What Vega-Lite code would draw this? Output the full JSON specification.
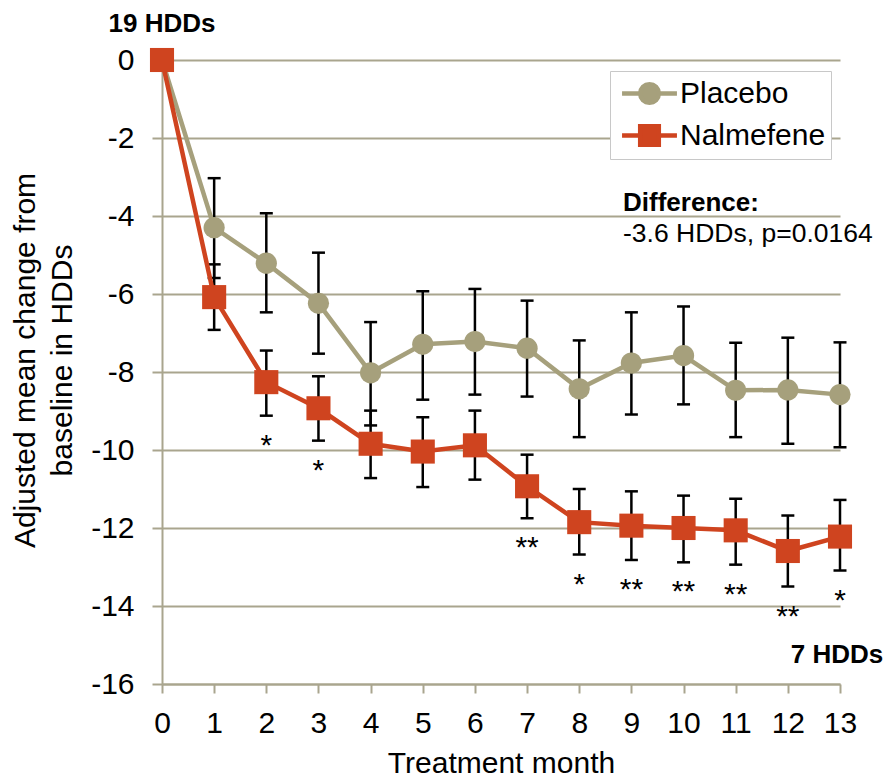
{
  "$schema": "https://vega.github.io/schema/vega-lite/v6.json",
  "autosize": "none",
  "width": 678,
  "height": 624,
  "padding": {"left": 162, "top": 60, "right": 51, "bottom": 94},
  "background": "white",
  "config": {
    "font": "Liberation Sans",
    "view": {"stroke": null},
    "axis": {"labelFont": "Liberation Sans", "titleFont": "Liberation Sans", "labelColor": "#000000", "titleColor": "#000000", "titleFontWeight": "normal"},
    "legend": {
      "title": null, "orient": "none", "legendX": 448, "legendY": 11,
      "strokeColor": "#C8C8C8", "fillColor": "#FFFFFF", "padding": 5,
      "labelFont": "Liberation Sans", "labelFontSize": 30, "labelColor": "#000000",
      "symbolSize": 900, "symbolOpacity": 1, "symbolStrokeWidth": 4.5,
      "symbolOffset": 17, "labelOffset": 13, "rowPadding": 5
    }
  },
  "datasets": {
    "series": [
      {"month": 0, "group": "Placebo", "mean": 0, "lo": null, "hi": null, "sig": null},
      {"month": 1, "group": "Placebo", "mean": -4.30, "lo": -5.59, "hi": -3.03, "sig": null},
      {"month": 2, "group": "Placebo", "mean": -5.21, "lo": -6.47, "hi": -3.93, "sig": null},
      {"month": 3, "group": "Placebo", "mean": -6.24, "lo": -7.53, "hi": -4.94, "sig": null},
      {"month": 4, "group": "Placebo", "mean": -8.02, "lo": -9.37, "hi": -6.72, "sig": null},
      {"month": 5, "group": "Placebo", "mean": -7.29, "lo": -8.71, "hi": -5.93, "sig": null},
      {"month": 6, "group": "Placebo", "mean": -7.22, "lo": -8.58, "hi": -5.87, "sig": null},
      {"month": 7, "group": "Placebo", "mean": -7.39, "lo": -8.63, "hi": -6.17, "sig": null},
      {"month": 8, "group": "Placebo", "mean": -8.43, "lo": -9.67, "hi": -7.19, "sig": null},
      {"month": 9, "group": "Placebo", "mean": -7.77, "lo": -9.09, "hi": -6.47, "sig": null},
      {"month": 10, "group": "Placebo", "mean": -7.58, "lo": -8.83, "hi": -6.32, "sig": null},
      {"month": 11, "group": "Placebo", "mean": -8.47, "lo": -9.67, "hi": -7.25, "sig": null},
      {"month": 12, "group": "Placebo", "mean": -8.46, "lo": -9.84, "hi": -7.12, "sig": null},
      {"month": 13, "group": "Placebo", "mean": -8.58, "lo": -9.93, "hi": -7.24, "sig": null},
      {"month": 0, "group": "Nalmefene", "mean": 0, "lo": null, "hi": null, "sig": null},
      {"month": 1, "group": "Nalmefene", "mean": -6.08, "lo": -6.92, "hi": -5.24, "sig": null},
      {"month": 2, "group": "Nalmefene", "mean": -8.26, "lo": -9.12, "hi": -7.45, "sig": "*"},
      {"month": 3, "group": "Nalmefene", "mean": -8.93, "lo": -9.76, "hi": -8.11, "sig": "*"},
      {"month": 4, "group": "Nalmefene", "mean": -9.84, "lo": -10.72, "hi": -8.99, "sig": null},
      {"month": 5, "group": "Nalmefene", "mean": -10.04, "lo": -10.95, "hi": -9.16, "sig": null},
      {"month": 6, "group": "Nalmefene", "mean": -9.88, "lo": -10.76, "hi": -8.99, "sig": null},
      {"month": 7, "group": "Nalmefene", "mean": -10.93, "lo": -11.75, "hi": -10.12, "sig": "**"},
      {"month": 8, "group": "Nalmefene", "mean": -11.85, "lo": -12.68, "hi": -11.0, "sig": "*"},
      {"month": 9, "group": "Nalmefene", "mean": -11.94, "lo": -12.82, "hi": -11.06, "sig": "**"},
      {"month": 10, "group": "Nalmefene", "mean": -12.0, "lo": -12.88, "hi": -11.17, "sig": "**"},
      {"month": 11, "group": "Nalmefene", "mean": -12.06, "lo": -12.94, "hi": -11.25, "sig": "**"},
      {"month": 12, "group": "Nalmefene", "mean": -12.59, "lo": -13.5, "hi": -11.68, "sig": "**"},
      {"month": 13, "group": "Nalmefene", "mean": -12.22, "lo": -13.09, "hi": -11.28, "sig": "*"}
    ],
    "notes": [
      {"month": 0, "value": 0, "text": "19 HDDs", "kind": "top"},
      {"month": 13, "value": -15.45, "text": "7 HDDs", "kind": "end"},
      {"month": 8.84, "value": -3.86, "text": "Difference:", "kind": "diffhead"},
      {"month": 8.84, "value": -4.66, "text": "-3.6 HDDs, p=0.0164", "kind": "diffbody"}
    ]
  },
  "data": {"name": "series"},
  "encoding": {
    "x": {
      "field": "month", "type": "quantitative",
      "scale": {"domain": [0, 13], "nice": false, "zero": false},
      "axis": {
        "title": "Treatment month", "values": [0,1,2,3,4,5,6,7,8,9,10,11,12,13], "format": "d",
        "grid": false, "domainColor": "#A9A58E", "domainWidth": 2, "tickColor": "#A9A58E", "tickWidth": 2, "tickSize": 9,
        "labelFontSize": 30, "labelPadding": 15, "labelFlush": false, "titleFontSize": 30, "titlePadding": 10
      }
    },
    "y": {
      "type": "quantitative",
      "scale": {"domain": [-16, 0], "nice": false, "zero": false},
      "axis": {
        "title": ["Adjusted mean change from", "baseline in HDDs"],
        "values": [0,-2,-4,-6,-8,-10,-12,-14,-16],
        "labelExpr": "toString(datum.value)",
        "grid": true, "gridColor": "#A9A58E", "gridWidth": 2,
        "domainColor": "#A9A58E", "domainWidth": 2, "tickColor": "#A9A58E", "tickWidth": 2, "tickSize": 10,
        "labelFontSize": 30, "labelPadding": 18, "labelFlush": false,
        "titleFontSize": 30, "titleLineHeight": 37, "titleX": -128, "titleY": 300, "titleBaseline": "alphabetic", "titleAngle": -90, "titleAlign": "center"
      }
    }
  },
  "layer": [
    {
      "mark": {"type": "point", "filled": true, "opacity": 0, "strokeWidth": 4.5},
      "encoding": {
        "y": {"field": "mean"},
        "fill": {"field": "group", "type": "nominal", "scale": {"domain": ["Placebo", "Nalmefene"], "range": ["#A6A07C", "#CF441F"]}, "legend": {"symbolOpacity": 1}},
        "stroke": {"field": "group", "type": "nominal", "scale": {"domain": ["Placebo", "Nalmefene"], "range": ["#A6A07C", "#CF441F"]}, "legend": {"symbolOpacity": 1}},
        "shape": {"field": "group", "type": "nominal", "scale": {"domain": ["Placebo", "Nalmefene"], "range": [
          "M-1.83,0L-0.62,0L-0.573,-0.237L-0.438,-0.438L-0.237,-0.573L0,-0.62L0.237,-0.573L0.438,-0.438L0.573,-0.237L0.62,0L1.83,0L0.62,0L0.573,0.237L0.438,0.438L0.237,0.573L0,0.62L-0.237,0.573L-0.438,0.438L-0.573,0.237L-0.62,0Z",
          "M-1.83,0L-0.62,0L-0.62,-0.62L0.62,-0.62L0.62,0L1.83,0L0.62,0L0.62,0.62L-0.62,0.62L-0.62,0Z"
        ]}, "legend": {"symbolOpacity": 1}}
      }
    },
    {
      "mark": {"type": "rule", "color": "#000000", "strokeWidth": 2.5},
      "transform": [{"filter": "datum.lo != null"}],
      "encoding": {"y": {"field": "lo"}, "y2": {"field": "hi"}}
    },
    {
      "mark": {"type": "tick", "orient": "horizontal", "color": "#000000", "size": 13, "thickness": 2.5, "opacity": 1},
      "transform": [{"filter": "datum.lo != null"}],
      "encoding": {"y": {"field": "lo"}}
    },
    {
      "mark": {"type": "tick", "orient": "horizontal", "color": "#000000", "size": 13, "thickness": 2.5, "opacity": 1},
      "transform": [{"filter": "datum.lo != null"}],
      "encoding": {"y": {"field": "hi"}}
    },
    {
      "mark": {"type": "line", "strokeWidth": 4.5},
      "encoding": {
        "y": {"field": "mean"},
        "color": {"field": "group", "type": "nominal", "scale": {"domain": ["Placebo", "Nalmefene"], "range": ["#A6A07C", "#CF441F"]}, "legend": null},
        "order": {"field": "month"}
      }
    },
    {
      "mark": {"type": "point", "filled": true, "opacity": 1, "shape": "circle", "size": 450},
      "transform": [{"filter": "datum.group == 'Placebo'"}],
      "encoding": {
        "y": {"field": "mean"},
        "color": {"field": "group", "type": "nominal", "scale": {"domain": ["Placebo", "Nalmefene"], "range": ["#A6A07C", "#CF441F"]}, "legend": null}
      }
    },
    {
      "mark": {"type": "point", "filled": true, "opacity": 1, "shape": "square", "size": 580},
      "transform": [{"filter": "datum.group == 'Nalmefene'"}],
      "encoding": {
        "y": {"field": "mean"},
        "color": {"field": "group", "type": "nominal", "scale": {"domain": ["Placebo", "Nalmefene"], "range": ["#A6A07C", "#CF441F"]}, "legend": null}
      }
    },
    {
      "mark": {"type": "text", "font": "Liberation Sans", "fontSize": 30, "color": "#000000", "baseline": "middle", "align": "center", "dy": 30},
      "transform": [{"filter": "datum.sig != null"}],
      "encoding": {"y": {"field": "lo"}, "text": {"field": "sig"}}
    },
    {
      "data": {"name": "notes"},
      "transform": [{"filter": "datum.kind == 'top'"}],
      "mark": {"type": "text", "font": "Liberation Sans", "fontWeight": "bold", "fontSize": 26, "color": "#000000", "baseline": "alphabetic", "align": "center", "dy": -28},
      "encoding": {"y": {"field": "value"}, "text": {"field": "text"}}
    },
    {
      "data": {"name": "notes"},
      "transform": [{"filter": "datum.kind == 'end'"}],
      "mark": {"type": "text", "font": "Liberation Sans", "fontWeight": "bold", "fontSize": 26, "color": "#000000", "baseline": "alphabetic", "align": "center", "dx": -3},
      "encoding": {"y": {"field": "value"}, "text": {"field": "text"}}
    },
    {
      "data": {"name": "notes"},
      "transform": [{"filter": "datum.kind == 'diffhead'"}],
      "mark": {"type": "text", "font": "Liberation Sans", "fontWeight": "bold", "fontSize": 26, "color": "#000000", "baseline": "alphabetic", "align": "left"},
      "encoding": {"y": {"field": "value"}, "text": {"field": "text"}}
    },
    {
      "data": {"name": "notes"},
      "transform": [{"filter": "datum.kind == 'diffbody'"}],
      "mark": {"type": "text", "font": "Liberation Sans", "fontSize": 26.5, "color": "#000000", "baseline": "alphabetic", "align": "left"},
      "encoding": {"y": {"field": "value"}, "text": {"field": "text"}}
    }
  ]
}
